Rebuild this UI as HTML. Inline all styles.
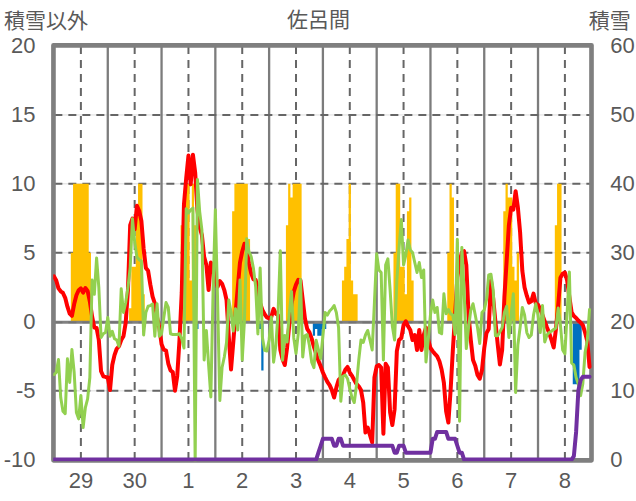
<!DOCTYPE html><html><head><meta charset="utf-8"><title>chart</title><style>html,body{margin:0;padding:0;background:#fff}body{width:636px;height:501px;overflow:hidden}svg{display:block}text{font-family:"Liberation Sans","Noto Sans CJK JP",sans-serif;fill:#595959}</style></head><body>
<svg width="636" height="501" viewBox="0 0 636 501">
<desc>佐呂間 — 積雪以外 (left axis, -10 to 20) / 積雪 (right axis, 0 to 60); days 29, 30, 1-8</desc>
<rect width="636" height="501" fill="#fff"/>
<defs><clipPath id="pc"><rect x="53.2" y="43" width="540.8" height="418.2"/></clipPath></defs>
<g stroke="#d4d4d4" stroke-width="0.8" fill="none">
<line x1="53.45" y1="114.95" x2="591.50" y2="114.95"/>
<line x1="53.45" y1="183.80" x2="591.50" y2="183.80"/>
<line x1="53.45" y1="252.80" x2="591.50" y2="252.80"/>
<line x1="53.45" y1="390.85" x2="591.50" y2="390.85"/>
</g>
<g stroke="#7c7c7c" stroke-width="2.3" fill="none">
<line x1="107.78" y1="45.35" x2="107.78" y2="460.35"/>
<line x1="161.56" y1="45.35" x2="161.56" y2="460.35"/>
<line x1="215.34" y1="45.35" x2="215.34" y2="460.35"/>
<line x1="269.12" y1="45.35" x2="269.12" y2="460.35"/>
<line x1="322.90" y1="45.35" x2="322.90" y2="460.35"/>
<line x1="376.68" y1="45.35" x2="376.68" y2="460.35"/>
<line x1="430.46" y1="45.35" x2="430.46" y2="460.35"/>
<line x1="484.24" y1="45.35" x2="484.24" y2="460.35"/>
<line x1="538.02" y1="45.35" x2="538.02" y2="460.35"/>
</g>
<g stroke="#666666" stroke-width="2.0" fill="none">
<line x1="80.89" y1="45.35" x2="80.89" y2="460.35" stroke-dasharray="8 6" stroke-dashoffset="-0.7"/>
<line x1="134.67" y1="45.35" x2="134.67" y2="460.35" stroke-dasharray="8 6" stroke-dashoffset="-0.7"/>
<line x1="188.45" y1="45.35" x2="188.45" y2="460.35" stroke-dasharray="8 6" stroke-dashoffset="-0.7"/>
<line x1="242.23" y1="45.35" x2="242.23" y2="460.35" stroke-dasharray="8 6" stroke-dashoffset="-0.7"/>
<line x1="296.01" y1="45.35" x2="296.01" y2="460.35" stroke-dasharray="8 6" stroke-dashoffset="-0.7"/>
<line x1="349.79" y1="45.35" x2="349.79" y2="460.35" stroke-dasharray="8 6" stroke-dashoffset="-0.7"/>
<line x1="403.57" y1="45.35" x2="403.57" y2="460.35" stroke-dasharray="8 6" stroke-dashoffset="-0.7"/>
<line x1="457.35" y1="45.35" x2="457.35" y2="460.35" stroke-dasharray="8 6" stroke-dashoffset="-0.7"/>
<line x1="511.13" y1="45.35" x2="511.13" y2="460.35" stroke-dasharray="8 6" stroke-dashoffset="-0.7"/>
<line x1="564.91" y1="45.35" x2="564.91" y2="460.35" stroke-dasharray="8 6" stroke-dashoffset="-0.7"/>
<line x1="53.45" y1="114.95" x2="591.50" y2="114.95" stroke-dasharray="8 6" stroke-dashoffset="-0.9"/>
<line x1="53.45" y1="183.80" x2="591.50" y2="183.80" stroke-dasharray="8 6" stroke-dashoffset="-0.9"/>
<line x1="53.45" y1="252.80" x2="591.50" y2="252.80" stroke-dasharray="8 6" stroke-dashoffset="-0.9"/>
<line x1="53.45" y1="390.85" x2="591.50" y2="390.85" stroke-dasharray="8 6" stroke-dashoffset="-0.9"/>
</g>
<path fill="#ffc000" d="M70.81,322.00 L70.81,252.85 L73.05,252.85 L73.05,183.68 L75.29,183.68 L75.29,183.68 L77.53,183.68 L77.53,183.68 L79.77,183.68 L79.77,183.68 L82.01,183.68 L82.01,183.68 L84.25,183.68 L84.25,183.68 L86.49,183.68 L86.49,183.68 L88.73,183.68 L88.73,252.85 L90.97,252.85 L90.97,322.00 Z M129.07,322.00 L129.07,308.18 L131.31,308.18 L131.31,266.68 L133.55,266.68 L133.55,266.68 L135.79,266.68 L135.79,211.35 L138.03,211.35 L138.03,183.68 L140.27,183.68 L140.27,183.68 L142.51,183.68 L142.51,294.35 L144.75,294.35 L144.75,322.00 Z M180.61,322.00 L180.61,225.18 L182.85,225.18 L182.85,211.35 L185.09,211.35 L185.09,183.68 L187.33,183.68 L187.33,183.68 L189.57,183.68 L189.57,280.52 L191.81,280.52 L191.81,183.68 L194.05,183.68 L194.05,225.18 L196.29,225.18 L196.29,322.00 Z M232.14,322.00 L232.14,211.35 L234.38,211.35 L234.38,183.68 L236.63,183.68 L236.63,183.68 L238.87,183.68 L238.87,183.68 L241.11,183.68 L241.11,183.68 L243.35,183.68 L243.35,183.68 L245.59,183.68 L245.59,183.68 L247.83,183.68 L247.83,239.02 L250.07,239.02 L250.07,322.00 Z M285.92,322.00 L285.92,225.18 L288.16,225.18 L288.16,183.68 L290.40,183.68 L290.40,197.52 L292.65,197.52 L292.65,183.68 L294.89,183.68 L294.89,183.68 L297.13,183.68 L297.13,183.68 L299.37,183.68 L299.37,183.68 L301.61,183.68 L301.61,322.00 Z M341.94,322.00 L341.94,280.52 L344.18,280.52 L344.18,266.68 L346.42,266.68 L346.42,239.02 L348.67,239.02 L348.67,183.68 L350.91,183.68 L350.91,280.52 L353.15,280.52 L353.15,294.35 L355.39,294.35 L355.39,294.35 L357.63,294.35 L357.63,322.00 Z M393.48,322.00 L393.48,252.85 L395.72,252.85 L395.72,183.68 L397.96,183.68 L397.96,183.68 L400.20,183.68 L400.20,266.68 L402.44,266.68 L402.44,266.68 L404.69,266.68 L404.69,294.35 L406.93,294.35 L406.93,211.35 L409.17,211.35 L409.17,197.52 L411.41,197.52 L411.41,280.52 L413.65,280.52 L413.65,322.00 Z M447.26,322.00 L447.26,252.85 L449.50,252.85 L449.50,183.68 L451.74,183.68 L451.74,197.52 L453.98,197.52 L453.98,322.00 Z M503.28,322.00 L503.28,211.35 L505.52,211.35 L505.52,183.68 L507.76,183.68 L507.76,197.52 L510.00,197.52 L510.00,197.52 L512.24,197.52 L512.24,266.68 L514.48,266.68 L514.48,280.52 L516.73,280.52 L516.73,252.85 L518.97,252.85 L518.97,322.00 Z M554.82,322.00 L554.82,225.18 L557.06,225.18 L557.06,183.68 L559.30,183.68 L559.30,183.68 L561.54,183.68 L561.54,322.00 Z"/>
<path fill="#0070c0" d="M196.29,322.00 L196.29,328.93 L198.53,328.93 L198.53,322.00 Z M256.79,322.00 L256.79,328.93 L259.03,328.93 L259.03,328.93 L261.27,328.93 L261.27,370.43 L263.51,370.43 L263.51,322.00 Z M312.81,322.00 L312.81,335.85 L315.05,335.85 L315.05,328.93 L317.29,328.93 L317.29,335.85 L319.53,335.85 L319.53,335.85 L321.78,335.85 L321.78,328.93 L324.02,328.93 L324.02,328.93 L326.26,328.93 L326.26,322.00 Z M572.75,322.00 L572.75,384.27 L574.99,384.27 L574.99,384.27 L577.23,384.27 L577.23,384.27 L579.47,384.27 L579.47,349.68 L581.71,349.68 L581.71,322.00 Z"/>
<line x1="53.45" y1="322.35" x2="591.50" y2="322.35" stroke="#808080" stroke-width="3.0"/>
<line x1="53.45" y1="322.35" x2="591.50" y2="322.35" stroke="#747474" stroke-width="1.6" stroke-dasharray="8 6" stroke-dashoffset="-0.9"/>
<rect x="53.45" y="45.35" width="538.05" height="415.00" fill="none" stroke="#7f7f7f" stroke-width="4.65" stroke-linejoin="round"/>
<g clip-path="url(#pc)"><polyline fill="none" stroke="#ff0000" stroke-width="4.0" stroke-linejoin="round" stroke-linecap="round" points="54.00,276.37 56.24,280.52 58.48,288.40 60.72,291.31 62.96,292.97 65.20,297.81 67.44,306.66 69.69,313.58 71.93,315.79 74.17,304.03 76.41,295.32 78.65,290.20 80.89,288.40 83.13,292.69 85.37,287.99 87.61,290.89 89.85,301.54 92.09,316.48 94.33,327.55 96.58,327.97 98.82,340.00 101.06,371.26 103.30,376.24 105.54,376.94 107.78,377.49 110.02,390.08 112.26,365.04 114.50,355.08 116.74,348.72 118.98,346.23 121.22,340.00 123.46,336.27 125.71,322.57 127.95,290.06 130.19,225.05 132.43,218.68 134.67,229.33 136.91,205.82 139.15,210.80 141.39,221.03 143.63,248.70 145.87,268.07 148.11,270.83 150.35,284.67 152.60,296.70 154.84,303.34 157.08,317.45 159.32,327.55 161.56,344.15 163.80,349.68 166.04,350.51 168.28,363.52 170.52,370.43 172.76,372.09 175.00,390.77 177.24,375.97 179.48,340.00 181.73,292.97 183.97,204.43 186.21,178.15 188.45,155.60 190.69,184.38 192.93,154.77 195.17,172.48 197.41,209.97 199.65,227.53 201.89,235.01 204.13,256.86 206.37,265.02 208.62,290.06 210.86,262.53 213.10,268.76 215.34,278.72 217.58,286.88 219.82,281.07 222.06,283.70 224.30,290.06 226.54,300.02 228.78,336.27 231.02,369.47 233.26,342.49 235.50,313.99 237.75,287.57 239.99,262.53 242.23,251.47 244.47,243.72 246.71,248.28 248.95,263.36 251.19,273.32 253.43,279.27 255.67,279.96 257.91,290.06 260.15,303.34 262.39,309.98 264.64,314.27 266.88,317.45 269.12,318.28 271.36,316.76 273.60,308.88 275.84,313.72 278.08,315.10 280.32,349.68 282.56,359.37 284.80,365.04 287.04,348.02 289.28,324.78 291.52,304.03 293.77,291.58 296.01,284.67 298.25,279.82 300.49,280.52 302.73,299.88 304.97,318.70 307.21,328.93 309.45,332.39 311.69,338.62 313.93,346.92 316.17,353.83 318.41,360.75 320.66,366.28 322.90,372.51 325.14,377.35 327.38,381.78 329.62,385.10 331.86,390.08 334.10,397.55 336.34,387.59 338.58,379.98 340.82,377.77 343.06,375.00 345.30,369.74 347.54,366.98 349.79,372.51 352.03,375.83 354.27,379.98 356.51,383.99 358.75,386.34 360.99,390.08 363.23,402.53 365.47,432.55 367.71,427.56 369.95,435.04 372.19,442.50 374.43,377.49 376.68,366.28 378.92,365.04 381.16,367.53 383.40,433.79 385.64,363.79 387.88,367.53 390.12,412.49 392.36,425.08 394.60,409.17 396.84,351.07 399.08,340.00 401.32,338.06 403.56,325.06 405.81,321.33 408.05,326.31 410.29,330.04 412.53,340.00 414.77,335.02 417.01,349.96 419.25,330.04 421.49,349.96 423.73,335.02 425.97,327.55 428.21,340.00 430.45,348.02 432.70,351.20 434.94,353.83 437.18,356.32 439.42,361.30 441.66,369.74 443.90,382.88 446.14,411.38 448.38,422.58 450.62,390.08 452.86,349.96 455.10,314.96 457.34,277.47 459.58,262.53 461.83,252.43 464.07,251.19 466.31,265.02 468.55,314.96 470.79,340.00 473.03,360.06 475.27,365.73 477.51,375.00 479.75,378.73 481.99,370.02 484.23,348.30 486.47,333.08 488.72,328.93 490.96,280.52 493.20,298.50 495.44,322.02 497.68,344.15 499.92,364.49 502.16,349.96 504.40,297.12 506.64,261.15 508.88,225.18 511.12,207.75 513.36,209.55 515.60,191.15 517.85,207.20 520.09,232.10 522.33,270.83 524.57,287.43 526.81,295.73 529.05,302.65 531.29,301.27 533.53,293.66 535.77,303.34 538.01,304.73 540.25,308.88 542.49,315.10 544.74,321.33 546.98,327.55 549.22,333.08 551.46,340.00 553.70,347.47 555.94,328.93 558.18,305.42 560.42,277.75 562.66,273.74 564.90,272.49 567.14,280.52 569.38,297.12 571.62,312.33 573.87,316.07 576.11,318.01 578.35,320.63 580.59,322.57 582.83,325.06 585.07,332.53 587.31,341.25 589.55,366.98"/>
<polyline fill="none" stroke="#92d050" stroke-width="3.0" stroke-linejoin="round" stroke-linecap="round" points="54.00,374.58 56.24,372.51 58.48,359.50 60.72,397.55 62.96,411.24 65.20,413.73 67.44,358.81 69.69,382.47 71.93,349.54 74.17,372.51 76.41,412.49 78.65,418.85 80.89,395.47 83.13,427.56 85.37,407.51 87.61,398.79 89.85,377.49 92.09,279.96 94.33,294.35 96.58,257.97 98.82,287.43 101.06,337.51 103.30,333.78 105.54,332.53 107.78,317.45 110.02,336.27 112.26,331.29 114.50,338.75 116.74,340.00 118.98,346.23 121.22,288.82 123.46,312.47 125.71,302.51 127.95,287.57 130.19,267.51 132.43,218.68 134.67,241.78 136.91,257.00 139.15,259.77 141.39,261.15 143.63,335.02 145.87,312.47 148.11,306.25 150.35,305.56 152.60,304.03 154.84,336.27 157.08,303.76 159.32,336.27 161.56,333.78 163.80,317.45 166.04,302.51 168.28,307.49 170.52,333.78 172.76,334.47 175.00,334.47 177.24,334.47 179.48,333.78 181.73,338.75 183.97,348.02 186.21,208.72 188.45,213.01 190.69,209.97 192.93,208.03 195.17,463.12 197.41,179.39 199.65,211.35 201.89,230.03 204.13,360.06 206.37,330.59 208.62,365.04 210.86,396.99 213.10,290.06 215.34,209.69 217.58,300.02 219.82,400.59 222.06,367.53 224.30,357.02 226.54,342.49 228.78,300.02 231.02,312.06 233.26,331.01 235.50,308.74 237.75,330.04 239.99,279.96 242.23,360.06 244.47,320.08 246.71,238.74 248.95,251.74 251.19,256.72 253.43,268.34 255.67,286.74 257.91,333.91 260.15,268.07 262.39,337.23 264.64,350.38 266.88,351.07 269.12,340.00 271.36,317.04 273.60,362.13 275.84,345.53 278.08,312.33 280.32,250.78 282.56,360.20 284.80,335.44 287.04,342.08 289.28,313.72 291.52,291.58 293.77,337.93 296.01,353.56 298.25,333.91 300.49,279.55 302.73,357.02 304.97,335.85 307.21,334.47 309.45,345.53 311.69,362.13 313.93,367.67 316.17,340.28 318.41,349.68 320.66,358.54 322.90,335.85 325.14,312.61 327.38,315.10 329.62,310.95 331.86,308.74 334.10,305.56 336.34,312.47 338.58,327.55 340.82,401.28 343.06,376.24 345.30,375.00 347.54,378.73 349.79,388.83 352.03,397.55 354.27,402.53 356.51,385.10 358.75,360.06 360.99,340.00 363.23,342.49 365.47,335.02 367.71,330.45 369.95,340.00 372.19,349.96 374.43,302.51 376.68,253.82 378.92,270.00 381.16,272.49 383.40,360.06 385.64,265.02 387.88,258.80 390.12,290.06 392.36,326.17 394.60,340.00 396.84,280.52 399.08,247.45 401.32,219.51 403.56,265.02 405.81,255.06 408.05,239.99 410.29,249.94 412.53,252.43 414.77,262.53 417.01,272.49 419.25,262.53 421.49,277.47 423.73,270.00 425.97,362.00 428.21,340.00 430.45,314.96 432.70,300.02 434.94,312.47 437.18,307.49 439.42,332.53 441.66,333.78 443.90,293.80 446.14,313.72 448.38,309.57 450.62,313.72 452.86,315.10 455.10,334.47 457.34,239.29 459.58,421.34 461.83,247.45 464.07,290.06 466.31,348.58 468.55,327.55 470.79,309.98 473.03,303.76 475.27,314.96 477.51,327.55 479.75,343.46 481.99,312.47 484.23,309.98 486.47,300.02 488.72,274.98 490.96,274.29 493.20,290.06 495.44,335.85 497.68,335.85 499.92,331.70 502.16,327.55 504.40,312.47 506.64,306.25 508.88,337.51 511.12,314.96 513.36,293.80 515.60,392.57 517.85,344.98 520.09,327.55 522.33,307.49 524.57,314.96 526.81,332.53 529.05,337.51 531.29,335.02 533.53,314.96 535.77,303.76 538.01,314.96 540.25,332.53 542.49,305.56 544.74,341.94 546.98,335.02 549.22,332.53 551.46,331.29 553.70,329.49 555.94,327.97 558.18,308.05 560.42,325.06 562.66,349.96 564.90,353.83 567.14,312.47 569.38,271.94 571.62,362.96 573.87,365.04 576.11,377.49 578.35,384.27 580.59,395.61 582.83,383.71 585.07,352.59 587.31,340.00 589.55,309.43"/>
<polyline fill="none" stroke="#7030a0" stroke-width="4.0" stroke-linejoin="round" stroke-linecap="round" points="54.00,459.55 56.24,459.55 58.48,459.55 60.72,459.55 62.96,459.55 65.20,459.55 67.44,459.55 69.69,459.55 71.93,459.55 74.17,459.55 76.41,459.55 78.65,459.55 80.89,459.55 83.13,459.55 85.37,459.55 87.61,459.55 89.85,459.55 92.09,459.55 94.33,459.55 96.58,459.55 98.82,459.55 101.06,459.55 103.30,459.55 105.54,459.55 107.78,459.55 110.02,459.55 112.26,459.55 114.50,459.55 116.74,459.55 118.98,459.55 121.22,459.55 123.46,459.55 125.71,459.55 127.95,459.55 130.19,459.55 132.43,459.55 134.67,459.55 136.91,459.55 139.15,459.55 141.39,459.55 143.63,459.55 145.87,459.55 148.11,459.55 150.35,459.55 152.60,459.55 154.84,459.55 157.08,459.55 159.32,459.55 161.56,459.55 163.80,459.55 166.04,459.55 168.28,459.55 170.52,459.55 172.76,459.55 175.00,459.55 177.24,459.55 179.48,459.55 181.73,459.55 183.97,459.55 186.21,459.55 188.45,459.55 190.69,459.55 192.93,459.55 195.17,459.55 197.41,459.55 199.65,459.55 201.89,459.55 204.13,459.55 206.37,459.55 208.62,459.55 210.86,459.55 213.10,459.55 215.34,459.55 217.58,459.55 219.82,459.55 222.06,459.55 224.30,459.55 226.54,459.55 228.78,459.55 231.02,459.55 233.26,459.55 235.50,459.55 237.75,459.55 239.99,459.55 242.23,459.55 244.47,459.55 246.71,459.55 248.95,459.55 251.19,459.55 253.43,459.55 255.67,459.55 257.91,459.55 260.15,459.55 262.39,459.55 264.64,459.55 266.88,459.55 269.12,459.55 271.36,459.55 273.60,459.55 275.84,459.55 278.08,459.55 280.32,459.55 282.56,459.55 284.80,459.55 287.04,459.55 289.28,459.55 291.52,459.55 293.77,459.55 296.01,459.55 298.25,459.55 300.49,459.55 302.73,459.55 304.97,459.55 307.21,459.55 309.45,459.55 311.69,459.55 313.93,459.55 316.17,459.55 318.41,452.65 320.66,445.75 322.90,438.85 325.14,438.85 327.38,438.85 329.62,438.85 331.86,438.85 334.10,445.75 336.34,445.75 338.58,438.85 340.82,438.85 343.06,445.75 345.30,445.75 347.54,445.75 349.79,445.75 352.03,445.75 354.27,445.75 356.51,445.75 358.75,445.75 360.99,445.75 363.23,445.75 365.47,445.75 367.71,445.75 369.95,445.75 372.19,445.75 374.43,445.75 376.68,445.75 378.92,445.75 381.16,445.75 383.40,445.75 385.64,445.75 387.88,445.75 390.12,445.75 392.36,445.75 394.60,452.65 396.84,452.65 399.08,445.75 401.32,445.75 403.56,445.75 405.81,452.65 408.05,452.65 410.29,452.65 412.53,452.65 414.77,452.65 417.01,452.65 419.25,452.65 421.49,452.65 423.73,452.65 425.97,452.65 428.21,452.65 430.45,452.65 432.70,438.85 434.94,438.85 437.18,431.95 439.42,431.95 441.66,431.95 443.90,431.95 446.14,431.95 448.38,438.85 450.62,438.85 452.86,438.85 455.10,438.85 457.34,445.75 459.58,452.65 461.83,452.65 464.07,459.55 466.31,459.55 468.55,459.55 470.79,459.55 473.03,459.55 475.27,459.55 477.51,459.55 479.75,459.55 481.99,459.55 484.23,459.55 486.47,459.55 488.72,459.55 490.96,459.55 493.20,459.55 495.44,459.55 497.68,459.55 499.92,459.55 502.16,459.55 504.40,459.55 506.64,459.55 508.88,459.55 511.12,459.55 513.36,459.55 515.60,459.55 517.85,459.55 520.09,459.55 522.33,459.55 524.57,459.55 526.81,459.55 529.05,459.55 531.29,459.55 533.53,459.55 535.77,459.55 538.01,459.55 540.25,459.55 542.49,459.55 544.74,459.55 546.98,459.55 549.22,459.55 551.46,459.55 553.70,459.55 555.94,459.55 558.18,459.55 560.42,459.55 562.66,459.55 564.90,459.55 567.14,459.55 569.38,459.55 571.62,459.55 573.87,456.10 576.11,431.95 578.35,390.55 580.59,380.20 582.83,376.75 585.07,376.75 587.31,376.75 589.55,376.75"/></g>
<g font-size="22" fill="#595959" text-anchor="end">
<text x="35.5" y="53">20</text>
<text x="35.5" y="122">15</text>
<text x="35.5" y="191">10</text>
<text x="35.5" y="260">5</text>
<text x="35.5" y="329">0</text>
<text x="35.5" y="398">-5</text>
<text x="35.5" y="467">-10</text>
</g>
<g font-size="22" fill="#595959" text-anchor="start">
<text x="610.3" y="53">60</text>
<text x="610.3" y="122">50</text>
<text x="610.3" y="191">40</text>
<text x="610.3" y="260">30</text>
<text x="610.3" y="329">20</text>
<text x="610.3" y="398">10</text>
<text x="610.3" y="467">0</text>
</g>
<g font-size="22" fill="#595959" text-anchor="middle">
<text x="80.89" y="487.8">29</text>
<text x="134.67" y="487.8">30</text>
<text x="188.45" y="487.8">1</text>
<text x="242.23" y="487.8">2</text>
<text x="296.01" y="487.8">3</text>
<text x="349.79" y="487.8">4</text>
<text x="403.57" y="487.8">5</text>
<text x="457.35" y="487.8">6</text>
<text x="511.13" y="487.8">7</text>
<text x="564.91" y="487.8">8</text>
</g>
<text x="4" y="27.7" font-size="21" fill="#595959" text-anchor="start">積雪以外</text>
<text x="318.5" y="27" font-size="21" fill="#595959" text-anchor="middle">佐呂間</text>
<text x="588.8" y="28.4" font-size="21" fill="#595959" text-anchor="start">積雪</text>
</svg></body></html>
